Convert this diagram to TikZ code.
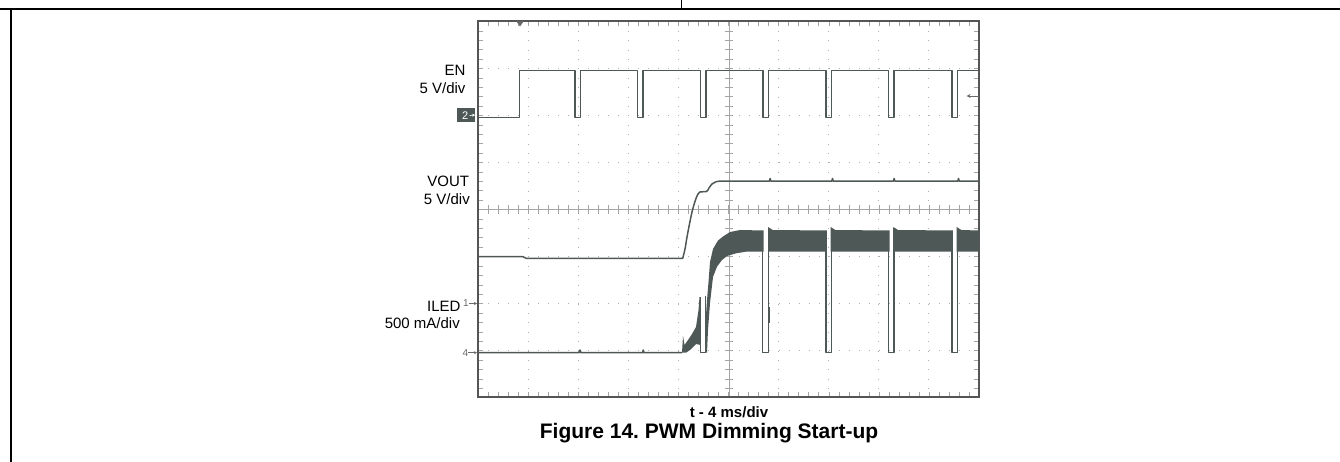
\documentclass[tikz,border=0pt]{standalone}
\usepackage{fontspec}
\setmainfont{Liberation Sans}
\usepackage{tikz}
\usetikzlibrary{arrows.meta}
\frenchspacing

\definecolor{trace}{RGB}{78,88,86}
\definecolor{gridgray}{RGB}{175,175,175}
\definecolor{tickgray}{RGB}{165,165,165}
\definecolor{framegray}{RGB}{85,85,85}
\definecolor{markgray}{RGB}{105,105,105}

\begin{document}
\begin{tikzpicture}[x=1pt,y=-1pt,
  lbl/.style={font=\fontsize{15}{18}\selectfont, inner sep=0pt},
  chmark/.style={font=\fontsize{10}{12}\selectfont, text=markgray, inner sep=0pt},
  trc/.style={trace, line width=1.5pt, line join=round},
  ]
\useasboundingbox (0,0) rectangle (1340,462);
%% page rules
\draw[line width=1.8pt] (0,9.3) -- (1340,9.3);
\draw[line width=1.5pt] (681.5,0) -- (681.5,9.3);
\draw[line width=1.8pt] (10.7,9.3) -- (10.7,462);

%% dotted grid
\foreach \i in {1,2,3,4,6,7,8,9}
  \draw[gridgray, line width=0.9pt, dash pattern=on 1pt off 8.4pt] ({478+50.1*\i},21.5) -- ({478+50.1*\i},396.5);
\foreach \k in {1,2,3,5,6,7}
  \draw[gridgray, line width=0.9pt, dash pattern=on 1pt off 9.02pt] (478,{21.5+47*\k}) -- (979,{21.5+47*\k});

%% minor ticks
\foreach \j in {1,...,49} {
  \draw[tickgray] ({478+10.02*\j},21) -- ++(0,5);
  \draw[tickgray] ({478+10.02*\j},396.5) -- ++(0,-5);
  \draw[tickgray] ({478+10.02*\j},205) -- ++(0,8.6);
}
\foreach \j in {1,...,39} {
  \draw[tickgray] (478,{21.5+9.4*\j}) -- ++(5,0);
  \draw[tickgray] (979,{21.5+9.4*\j}) -- ++(-5,0);
  \draw[tickgray] (724.7,{21.5+9.4*\j}) -- ++(8.6,0);
}
%% center lines
\draw[tickgray, line width=1pt] (729,21) -- (729,396.5);
\draw[tickgray, line width=1pt] (478,209.3) -- (979,209.3);

%% frame
\draw[framegray, line width=2pt] (478,21) rectangle (979,396.5);
\fill[markgray] (516.5,21.5) -- (523.5,21.5) -- (520,26.5) -- cycle;

%% EN
\draw[trc] (478,117.3) -- (519.3,117.3) -- (519.3,70.7)
  \foreach \f in {575,637.5,700.5,763,826,888.7,952} { -- (\f,70.7) -- (\f,117.3) -- ++(5.5,0) -- ++(0,-46.6) }
  -- (979,70.7);

%% VOUT
\draw[trc] (478,256.7) -- (523,256.7) -- (526,258.3) -- (682.7,258.3)
  -- plot[smooth, tension=0.6] coordinates {(682.7,258.3) (685,249) (687,237) (689.5,224) (692,212) (694.5,203) (697,196) (700,192) (706.5,191.5) (709,188) (712,184) (716,181.7) (720,181.2)}
  \foreach \b in {769.3,831.7,893.3,957.7} { -- (\b,181.2) -- ({\b+0.8},178.5) -- ({\b+1.6},181.2) }
  -- (979,181.2);

%% ILED
\draw[trc] (478,352.7) -- (579,352.7) -- (580,350) -- (581,352.7) -- (642.5,352.7) -- (643.3,350) -- (644,352.7) -- (682,352.7);
\fill[trace] (682,352.7) -- (683,336) -- (684.5,345) -- (688,340) -- (692,334) -- (696,327) -- (698.5,310) -- (699.5,297) -- (700.8,297)
  -- (700.8,345) -- (696,344) -- (690,350) -- (686,352.7) -- cycle;
\draw[trc] (700.5,340) -- (700.5,352.7) -- (705.7,352.7) -- (705.7,296);
\fill[trace] (705,352.7) -- (705,330) -- (707,300) -- (708.5,282) -- (710,262) -- (713,249) -- (718,240.5) -- (723,236.5) -- (730,232)
  -- (740,230) -- (763.5,230.5) -- (763.5,251.7) -- (746,251.7) -- (736,253.3) -- (727,256) -- (722,260) -- (717,266.7) -- (713,277)
  -- (710,303) -- (708,330) -- (707,352.7) -- cycle;
\foreach \f/\r/\n in {762.7/768.7/826.8, 826/831.3/889.5, 888.7/894/952.8, 952/957.3/979} {
  \draw[trc] (\f,250) -- (\f,352.7) -- (\r,352.7) -- (\r,228);
  \fill[trace] ({\r-0.7},227) -- ({\r+4},230) -- (\n,230.5) -- (\n,251.7) -- ({\r-0.7},251.7) -- cycle;
}
\draw[trace, line width=2.4pt] (769,307) -- (769,323);
\draw[trace, line width=2.4pt] (894,307) -- (894,323);

%% channel markers
\node[fill=trace, minimum width=18.3pt, minimum height=13.4pt, inner sep=0pt] (ch2) at (465.8,115) {};
\node[font=\fontsize{11}{12}\selectfont, text=white, inner sep=0pt] (ch2num) at (465.3,115.5) {2};
\draw[white, line width=0.7pt, -{Stealth[length=3pt,width=3pt]}] ([xshift=1pt]ch2num.east) -- (ch2.east);
\node[chmark] (ch1) at (465.8,303.5) {1};
\coordinate (ch1end) at (477,303.5);
\draw[markgray, line width=0.7pt, -{Stealth[length=3pt,width=3pt]}] (ch1) -- (ch1end);
\node[chmark] (ch4) at (465.3,352.7) {4};
\coordinate (ch4end) at (477,352.7);
\draw[markgray, line width=0.7pt, -{Stealth[length=3pt,width=3pt]}] (ch4) -- (ch4end);
\coordinate (trigR) at (979,96);
\coordinate (trigL) at (966.5,96);
\draw[markgray, line width=0.8pt, -{Stealth[length=4pt,width=4pt]}] (trigR) -- (trigL);

%% labels
\node[lbl, anchor=base east] (enlbl) at (465.7,76) {EN};
\node[lbl, anchor=base east] (enscale) at (465.7,94) {5 V/div};
\node[lbl, anchor=base east] (voutlbl) at (469.3,186.7) {VOUT};
\node[lbl, anchor=base east] (voutscale) at (470,205) {5 V/div};
\node[lbl, anchor=base east] (iledlbl) at (460.7,311.7) {ILED};
\node[lbl, anchor=base east] (iledscale) at (460,328) {500 mA/div};
\node[lbl, font=\bfseries\fontsize{15}{18}\selectfont, anchor=base] (tlbl) at (729,417) {t - 4 ms/div};
\node[font=\bfseries\fontsize{21}{24}\selectfont, anchor=base, inner sep=0pt] (caption) at (709,438) {Figure 14. PWM Dimming Start-up};
\end{tikzpicture}
\end{document}
